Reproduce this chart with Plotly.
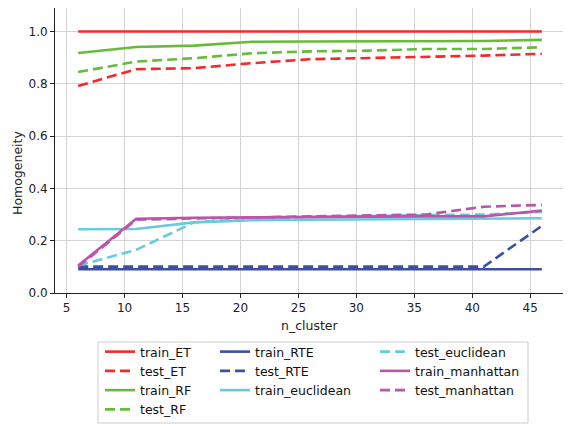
import plotly.graph_objects as go

n_cluster = [6, 11, 16, 21, 26, 31, 36, 41, 46]

train_ET = [1.0, 1.0, 1.0, 1.0, 1.0, 1.0, 1.0, 1.0, 1.0]
test_ET = [0.792, 0.856, 0.860, 0.879, 0.894, 0.898, 0.904, 0.908, 0.915]
train_RF = [0.918, 0.941, 0.946, 0.961, 0.962, 0.963, 0.964, 0.964, 0.968]
test_RF = [0.845, 0.885, 0.898, 0.917, 0.924, 0.927, 0.933, 0.933, 0.940]
train_RTE = [0.091, 0.091, 0.091, 0.091, 0.091, 0.091, 0.091, 0.091, 0.091]
test_RTE = [0.101, 0.101, 0.101, 0.101, 0.101, 0.101, 0.101, 0.101, 0.257]
train_euclidean = [0.244, 0.245, 0.270, 0.278, 0.280, 0.281, 0.282, 0.283, 0.286]
test_euclidean = [0.105, 0.165, 0.270, 0.285, 0.290, 0.295, 0.298, 0.300, 0.310]
train_manhattan = [0.105, 0.284, 0.288, 0.290, 0.291, 0.292, 0.293, 0.293, 0.315]
test_manhattan = [0.100, 0.280, 0.285, 0.290, 0.293, 0.297, 0.300, 0.330, 0.337]

x_ticks = [5, 10, 15, 20, 25, 30, 35, 40, 45]
y_ticks = [0.0, 0.2, 0.4, 0.6, 0.8, 1.0]

RED = "#f42a2a"
GREEN = "#66bb3a"
BLUE = "#3b4fa3"
CYAN = "#66ccdd"
MAG = "#bb55aa"

series = [
    ("train_ET", train_ET, RED, "solid", "legend"),
    ("test_ET", test_ET, RED, "dash", "legend"),
    ("train_RF", train_RF, GREEN, "solid", "legend"),
    ("test_RF", test_RF, GREEN, "dash", "legend"),
    ("train_RTE", train_RTE, BLUE, "solid", "legend2"),
    ("test_RTE", test_RTE, BLUE, "dash", "legend2"),
    ("train_euclidean", train_euclidean, CYAN, "solid", "legend2"),
    ("test_euclidean", test_euclidean, CYAN, "dash", "legend3"),
    ("train_manhattan", train_manhattan, MAG, "solid", "legend3"),
    ("test_manhattan", test_manhattan, MAG, "dash", "legend3"),
]

FONT = "DejaVu Sans"
W, H = 563, 420
L, R, T, B = 47, 6, 0, 135
PW, PH = W - L - R, H - T - B

fig = go.Figure()
for name, ys, col, dash, leg in series:
    fig.add_trace(go.Scatter(
        x=n_cluster, y=ys, name=name, mode="lines",
        line=dict(color=col, width=2.6, dash="10px,5px" if dash == "dash" else "solid"),
        legend=leg,
    ))

leg_common = dict(
    xref="container", yref="container", xanchor="left", yanchor="top",
    bgcolor="rgba(0,0,0,0)", borderwidth=0, itemwidth=30,
    font=dict(family=FONT, size=12.5, color="#111"), tracegroupgap=0,
)
LEG_TOP = 1 - 329 / H
fig.update_layout(
    width=W, height=H,
    margin=dict(l=L, r=R, t=T, b=B, autoexpand=False),
    paper_bgcolor="white", plot_bgcolor="white",
    font=dict(family=FONT, size=12, color="#222"),
    legend=dict(x=92 / W, y=LEG_TOP, **leg_common),
    legend2=dict(x=207 / W, y=LEG_TOP, **leg_common),
    legend3=dict(x=367 / W, y=LEG_TOP, **leg_common),
    xaxis=dict(
        range=[4, 48], tickvals=x_ticks, ticktext=[str(v) for v in x_ticks],
        showgrid=True, gridcolor="#d3d3d3", gridwidth=1,
        showline=True, linecolor="#222", linewidth=1, mirror=True,
        ticks="outside", ticklen=4, tickcolor="#222", zeroline=False,
        tickfont=dict(size=12), automargin=False,
    ),
    yaxis=dict(
        range=[0, 1.09], tickvals=y_ticks, ticktext=[f"{v:.1f}" for v in y_ticks],
        showgrid=True, gridcolor="#d3d3d3", gridwidth=1,
        showline=True, linecolor="#222", linewidth=1,
        ticks="outside", ticklen=4, tickcolor="#222", zeroline=False,
        tickfont=dict(size=12), automargin=False,
    ),
    annotations=[
        dict(text="n_cluster", xref="paper", yref="paper",
             x=(302 - L) / PW, y=(PH - 317) / PH, xanchor="center", yanchor="middle",
             showarrow=False, font=dict(family=FONT, size=12.5, color="#222")),
        dict(text="Homogeneity", xref="paper", yref="paper", textangle=-90,
             x=(9 - L) / PW, y=(PH - 165) / PH, xanchor="center", yanchor="middle",
             showarrow=False, font=dict(family=FONT, size=12.5, color="#222")),
    ],
    shapes=[dict(
        type="rect", xref="paper", yref="paper",
        x0=(90 - L) / PW, x1=(520 - L) / PW,
        y0=(PH - 415) / PH, y1=(PH - 334) / PH,
        line=dict(color="#cccccc", width=1), fillcolor="rgba(0,0,0,0)",
    )],
)

fig.write_html("out.html")
